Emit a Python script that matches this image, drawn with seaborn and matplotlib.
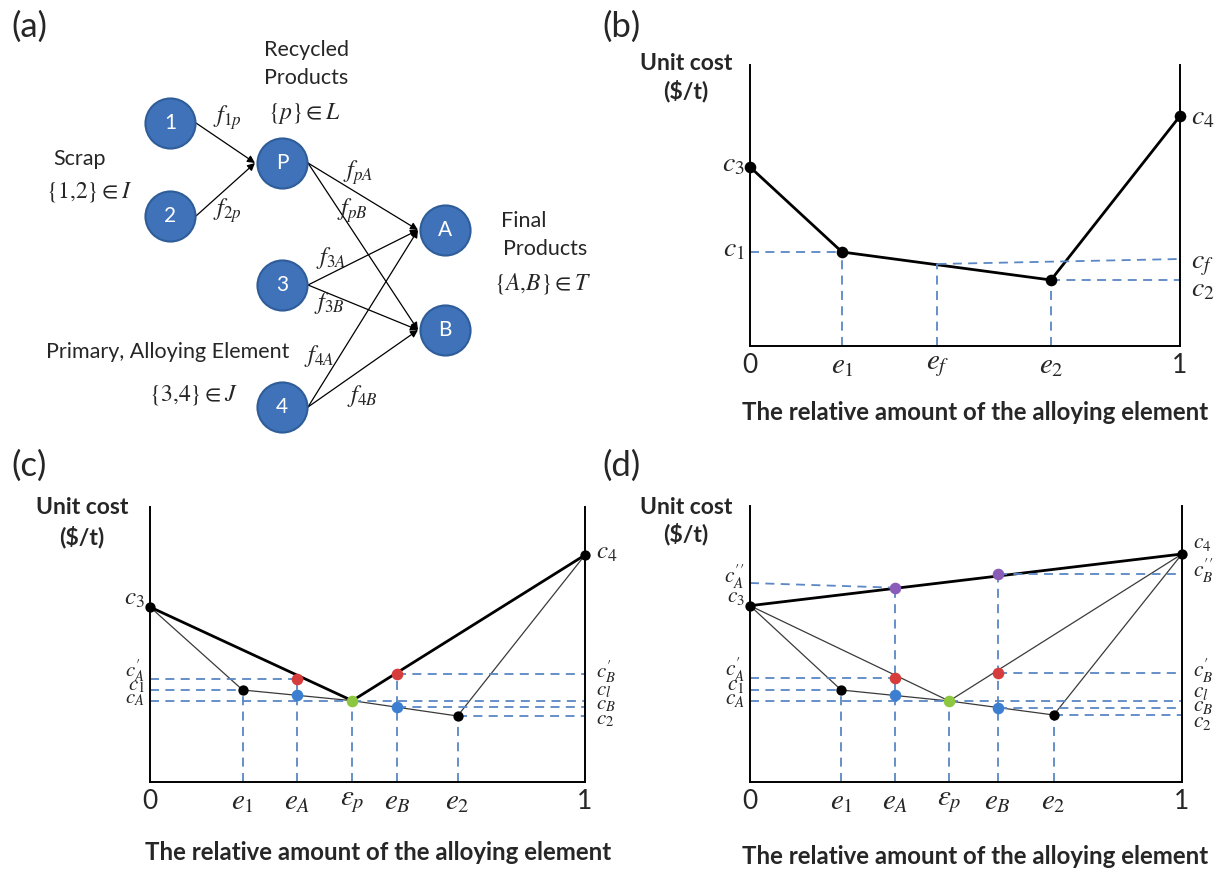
import matplotlib
matplotlib.use("Agg")
import matplotlib.pyplot as plt
import seaborn as sns

# ---------------- data ----------------
# panel (a): network nodes (pixel layout of the schematic)
node_names = ['1', '2', 'P', 'A', '3', 'B', '4']
node_x = [170, 170, 282, 445, 282, 445, 282]
node_y = [123, 216, 163, 230, 285, 330, 407]
edge_src = ['1', '2', 'P', 'P', '3', '3', '4', '4']
edge_dst = ['P', 'P', 'A', 'B', 'A', 'B', 'A', 'B']
edge_labels = [r'$f_{1p}$', r'$f_{2p}$', r'$f_{pA}$', r'$f_{pB}$',
               r'$f_{3A}$', r'$f_{3B}$', r'$f_{4A}$', r'$f_{4B}$']
edge_label_x = [227, 227, 358, 352, 331, 329, 319, 362]
edge_label_y = [118, 211, 173, 211, 258, 303, 356, 396]
group_texts = ['Recycled', 'Products', r'$\{p\} \in L$', 'Scrap', r'$\{1{,}2\} \in I$',
               'Final', 'Products', r'$\{A{,}B\} \in T$', 'Primary, Alloying Element',
               r'$\{3{,}4\} \in J$']
group_text_x = [306, 306, 304, 80, 89, 524, 545, 543, 168, 193]
group_text_y = [50, 78, 113, 159, 192, 221, 249, 284, 352, 395]

# panel (b)
b_pt_x = [0.0, 0.214, 0.700, 1.0]          # c3, e1, e2, c4
b_pt_cost = [179, 94, 66, 230]
b_ef, b_cf_left, b_cf_right = 0.436, 82, 87
b_ticks = [0, 0.214, 0.436, 0.700, 1]
b_ticklabels = ['0', r'$e_1$', r'$e_f$', r'$e_2$', '1']
b_left_lbl = [r'$c_3$', r'$c_1$']
b_left_val = [181, 96]
b_right_lbl = [r'$c_4$', r'$c_f$', r'$c_2$']
b_right_val = [228, 84, 56]

# panel (c)
c_x = {'c3': 0.0, 'e1': 0.213, 'eA': 0.339, 'ep': 0.465, 'eB': 0.5685, 'e2': 0.707, 'c4': 1.0}
c_cost = {'c3': 175, 'e1': 92, 'redA': 103.5, 'blueA': 87, 'green': 81.3,
          'redB': 108.5, 'blueB': 75.3, 'e2': 66, 'c4': 227}
c_ticks = [0, 0.213, 0.339, 0.465, 0.5685, 0.707, 1]
c_ticklabels = ['0', r'$e_1$', r'$e_A$', r'$\varepsilon_p$', r'$e_B$', r'$e_2$', '1']
c_left_lbl = [r'$c_3$', r'$c^{\prime}_A$', r'$c_1$', r'$c_A$']
c_left_val = [183, 110, 96, 83]
c_right_lbl = [r'$c_4$', r'$c^{\prime}_B$', r'$c_l$', r'$c_B$', r'$c_2$']
c_right_val = [229, 109, 91, 77, 62]

# panel (d)
d_x = {'c3': 0.0, 'e1': 0.211, 'eA': 0.336, 'ep': 0.461, 'eB': 0.573, 'e2': 0.703, 'c4': 1.0}
d_cost = {'c3': 176.3, 'e1': 92, 'purA': 194.3, 'redA': 104.3, 'blueA': 87, 'green': 81,
          'purB': 208, 'redB': 109.3, 'blueB': 73.7, 'e2': 67, 'c4': 228}
d_cApp_left = 199
d_ticks = [0, 0.211, 0.336, 0.461, 0.573, 0.703, 1]
d_ticklabels = ['0', r'$e_1$', r'$e_A$', r'$\varepsilon_p$', r'$e_B$', r'$e_2$', '1']
d_left_lbl = [r'$c^{\prime\prime}_A$', r'$c_3$', r'$c^{\prime}_A$', r'$c_1$', r'$c_A$']
d_left_val = [204, 185, 111, 97, 83]
d_right_lbl = [r'$c_4$', r'$c^{\prime\prime}_B$', r'$c^{\prime}_B$', r'$c_l$', r'$c_B$', r'$c_2$']
d_right_val = [239, 210, 110, 90, 76, 60]

# ---------------- style ----------------
sns.set_theme(style='white')
plt.rcParams['font.family'] = ['Lato', 'DejaVu Sans']
plt.rcParams['mathtext.fontset'] = 'stix'

W, H = 1224, 875
fig = plt.figure(figsize=(W / 100, H / 100), dpi=100)
fig.patch.set_facecolor('white')

DASH = dict(color='#5b87c5', linewidth=1.3, linestyle=(0, (5, 3.5)))
THICK = dict(color='black', linewidth=2.0)
THIN = dict(color='#3a3a3a', linewidth=0.9)
RED, BLUE, GREEN, PURPLE = '#d63c3c', '#3c7fd0', '#8dc63f', '#8a5cb8'


def px_axes(l, t, r, b):
    return fig.add_axes([l / W, 1 - b / H, (r - l) / W, (b - t) / H])


def line(ax, xs, ys, **kw):
    sns.lineplot(x=list(xs), y=list(ys), ax=ax, sort=False, estimator=None,
                 legend=False, **kw)


def dots(ax, xs, ys, color, s=55):
    sns.scatterplot(x=list(xs), y=list(ys), ax=ax, s=s, color=color,
                    edgecolor=color, linewidth=0, legend=False, zorder=5, clip_on=False)


def ftext(x, y, s, **kw):
    fig.text(x / W, 1 - y / H, s, ha='center', va='center', **kw)


def setup_cost_axes(ax, top, ticks, ticklabels):
    ax.set_xlim(0, 1)
    ax.set_ylim(0, top)
    for side in ['left', 'right', 'bottom']:
        ax.spines[side].set_visible(True)
        ax.spines[side].set_color('black')
        ax.spines[side].set_linewidth(1.4)
    ax.spines['top'].set_visible(False)
    ax.set_yticks([])
    ax.set_xticks(ticks)
    ax.set_xticklabels(ticklabels)
    for t in ax.get_xticklabels():
        t.set_fontsize(19 if t.get_text() in ('0', '1') else 21)
    ax.tick_params(axis='x', length=0, pad=5)
    ax.set_xlabel('')
    ax.set_ylabel('')
    ax.set_facecolor('white')


def side_labels(ax, labels, vals, side, size):
    half = size * 0.45 * 100 / 72 / 2   # half x-height in pixels
    for lbl, v in zip(labels, vals):
        if side == 'left':
            ax.annotate(lbl, xy=(0, v), xytext=(-5, -half), textcoords='offset pixels',
                        ha='right', va='baseline', fontsize=size, annotation_clip=False)
        else:
            ax.annotate(lbl, xy=(1, v), xytext=(11, -half), textcoords='offset pixels',
                        ha='left', va='baseline', fontsize=size, annotation_clip=False)


# ---------------- panel (a) ----------------
axa = px_axes(0, 0, 612, 440)
axa.set_xlim(0, 612)
axa.set_ylim(440, 0)
axa.axis('off')
pos = {n: (x, y) for n, x, y in zip(node_names, node_x, node_y)}
for s_, d_ in zip(edge_src, edge_dst):
    sx, sy = pos[s_]
    dx, dy = pos[d_]
    axa.annotate('', xy=(dx - 27, dy), xytext=(sx + 26, sy),
                 arrowprops=dict(arrowstyle='-|>', color='black', lw=0.9,
                                 mutation_scale=11, shrinkA=0, shrinkB=0))
sns.scatterplot(x=node_x, y=node_y, ax=axa, s=1300, color='#3f72b9',
                edgecolor='#2f5d99', linewidth=1.5, legend=False, zorder=3)
for n, x, y in zip(node_names, node_x, node_y):
    axa.text(x, y, n, color='white', fontsize=15, ha='center', va='center', zorder=4)
for lbl, x, y in zip(edge_labels, edge_label_x, edge_label_y):
    axa.text(x, y, lbl, fontsize=17.5, ha='center', va='center')
for t, x, y in zip(group_texts, group_text_x, group_text_y):
    fs = 17 if t.startswith('$') else 15.5
    axa.text(x, y, t, fontsize=fs, ha='center', va='center')

# ---------------- panel (b) ----------------
axb = px_axes(750, 65, 1180, 346)
setup_cost_axes(axb, 281, b_ticks, b_ticklabels)
line(axb, b_pt_x, b_pt_cost, **THICK)
e1x, e2x = b_pt_x[1], b_pt_x[2]
c1v, c2v = b_pt_cost[1], b_pt_cost[2]
line(axb, [0, e1x], [c1v, c1v], **DASH)
line(axb, [e1x, e1x], [0, c1v], **DASH)
line(axb, [b_ef, b_ef], [0, b_cf_left], **DASH)
line(axb, [b_ef, 1], [b_cf_left, b_cf_right], **DASH)
line(axb, [e2x, 1], [c2v, c2v], **DASH)
line(axb, [e2x, e2x], [0, c2v], **DASH)
dots(axb, b_pt_x, b_pt_cost, 'black', s=70)
side_labels(axb, b_left_lbl, b_left_val, 'left', 20)
side_labels(axb, b_right_lbl, b_right_val, 'right', 20)

# ---------------- panel (c) ----------------
axc = px_axes(150, 507, 585, 782)
setup_cost_axes(axc, 275, c_ticks, c_ticklabels)
X, C = c_x, c_cost
line(axc, [X['c3'], X['e1'], X['ep'], X['e2'], X['c4']],
     [C['c3'], C['e1'], C['green'], C['e2'], C['c4']], **THIN)
line(axc, [X['c3'], X['ep'], X['c4']], [C['c3'], C['green'], C['c4']], **THICK)
for k, ck in [('e1', 'e1'), ('eA', 'redA'), ('ep', 'green'), ('eB', 'redB'), ('e2', 'e2')]:
    line(axc, [X[k], X[k]], [0, C[ck]], **DASH)
for k, ck in [('eA', 'redA'), ('e1', 'e1'), ('ep', 'green')]:
    line(axc, [0, X[k]], [C[ck], C[ck]], **DASH)
for k, ck in [('eB', 'redB'), ('ep', 'green'), ('eB', 'blueB'), ('e2', 'e2')]:
    line(axc, [X[k], 1], [C[ck], C[ck]], **DASH)
dots(axc, [X['c3'], X['e1'], X['e2'], X['c4']], [C['c3'], C['e1'], C['e2'], C['c4']], 'black')
dots(axc, [X['eA'], X['eB']], [C['redA'], C['redB']], RED, s=70)
dots(axc, [X['eA'], X['eB']], [C['blueA'], C['blueB']], BLUE, s=70)
dots(axc, [X['ep']], [C['green']], GREEN, s=70)
side_labels(axc, c_left_lbl[:1], c_left_val[:1], 'left', 18)
side_labels(axc, c_left_lbl[1:], c_left_val[1:], 'left', 15)
side_labels(axc, c_right_lbl[:1], c_right_val[:1], 'right', 18)
side_labels(axc, c_right_lbl[1:], c_right_val[1:], 'right', 15)

# ---------------- panel (d) ----------------
axd = px_axes(750, 506, 1182, 782)
setup_cost_axes(axd, 276, d_ticks, d_ticklabels)
X, C = d_x, d_cost
line(axd, [X['c3'], X['e1'], X['ep'], X['e2'], X['c4']],
     [C['c3'], C['e1'], C['green'], C['e2'], C['c4']], **THIN)
line(axd, [X['c3'], X['ep'], X['c4']], [C['c3'], C['green'], C['c4']], **THIN)
line(axd, [X['c3'], X['c4']], [C['c3'], C['c4']], **THICK)
for k, ck in [('e1', 'e1'), ('eA', 'purA'), ('ep', 'green'), ('eB', 'purB'), ('e2', 'e2')]:
    line(axd, [X[k], X[k]], [0, C[ck]], **DASH)
line(axd, [0, X['eA']], [d_cApp_left, C['purA']], **DASH)
for k, ck in [('eA', 'redA'), ('e1', 'e1'), ('ep', 'green')]:
    line(axd, [0, X[k]], [C[ck], C[ck]], **DASH)
for k, ck in [('eB', 'purB'), ('eB', 'redB'), ('ep', 'green'), ('eB', 'blueB'), ('e2', 'e2')]:
    line(axd, [X[k], 1], [C[ck], C[ck]], **DASH)
dots(axd, [X['c3'], X['e1'], X['e2'], X['c4']], [C['c3'], C['e1'], C['e2'], C['c4']], 'black')
dots(axd, [X['eA'], X['eB']], [C['purA'], C['purB']], PURPLE, s=70)
dots(axd, [X['eA'], X['eB']], [C['redA'], C['redB']], RED, s=70)
dots(axd, [X['eA'], X['eB']], [C['blueA'], C['blueB']], BLUE, s=70)
dots(axd, [X['ep']], [C['green']], GREEN, s=70)
side_labels(axd, d_left_lbl, d_left_val, 'left', 15.5)
side_labels(axd, d_right_lbl, d_right_val, 'right', 15.5)

# ---------------- figure texts ----------------
for lbl, x, y in [('(a)', 29, 27), ('(b)', 622, 27), ('(c)', 29, 466), ('(d)', 622, 466)]:
    ftext(x, y, lbl, fontsize=25)
for x, y1, y2 in [(686, 63, 91), (82, 508, 537), (686, 508, 534)]:
    ftext(x, y1, 'Unit cost', fontsize=16.5, fontweight='bold')
    ftext(x, y2, r'(\$/t)', fontsize=16.5, fontweight='bold')
for x, y in [(975, 413), (378, 853), (975, 856)]:
    ftext(x, y, 'The relative amount of the alloying element', fontsize=17.3,
          fontweight='bold')

fig.savefig('out.png', dpi=100, facecolor='white')
